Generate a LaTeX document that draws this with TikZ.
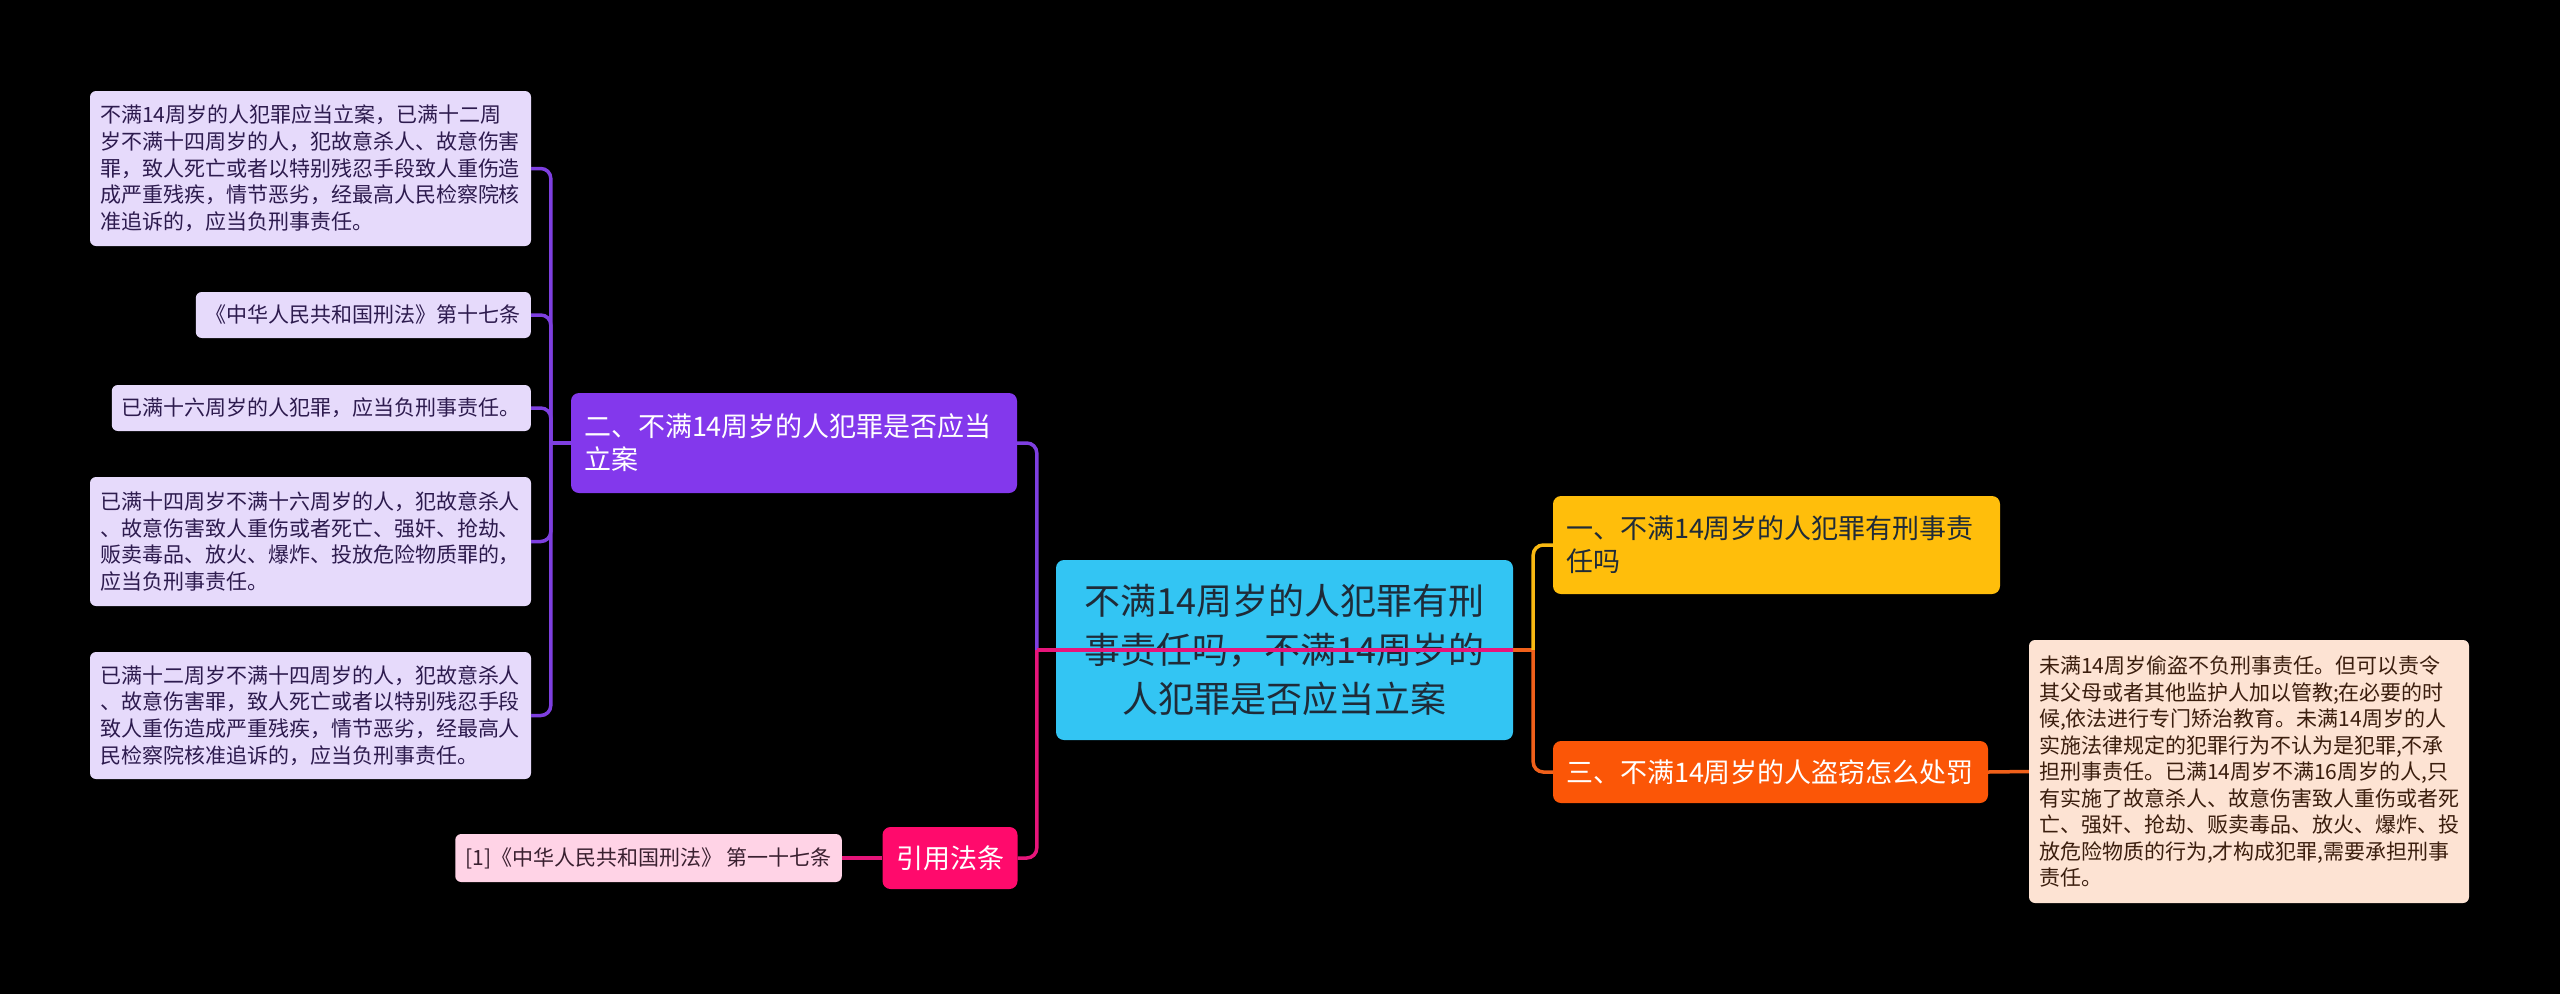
\documentclass[tikz,border=0pt]{standalone}
\usepackage{fontspec}
\setmainfont{Noto Sans CJK SC}
\usetikzlibrary{calc}
\definecolor{purpnode}{HTML}{8338EC}
\definecolor{lav}{HTML}{E6DAFB}
\definecolor{lavtext}{HTML}{2D1B4E}
\definecolor{purpline}{HTML}{7E3FE0}
\definecolor{centerfill}{HTML}{33C5F3}
\definecolor{centertext}{HTML}{1F2B38}
\definecolor{yellownode}{HTML}{FFBE0B}
\definecolor{yellowline}{HTML}{F9B912}
\definecolor{orangenode}{HTML}{FB5607}
\definecolor{orangeline}{HTML}{F0601A}
\definecolor{peach}{HTML}{FDE3D3}
\definecolor{peachtext}{HTML}{3B1E0E}
\definecolor{pinknode}{HTML}{FF0A6C}
\definecolor{pinkline}{HTML}{E6157A}
\definecolor{pinkleaf}{HTML}{FFD3E6}
\definecolor{pinktext}{HTML}{3A2030}
\tikzset{
  leafbox/.style={fill=lav, rounded corners=6pt, text=lavtext,
    font=\fontsize{21pt}{26.7pt}\selectfont, inner xsep=10pt, inner ysep=0pt, align=left},
  bignode/.style={rounded corners=8pt, font=\fontsize{27pt}{33pt}\selectfont,
    inner xsep=13pt, inner ysep=0pt, align=left},
  pl/.style={draw=purpline, line width=3.5pt},
  kl/.style={draw=pinkline, line width=3.5pt},
  yl/.style={draw=yellowline, line width=3.5pt},
  ol/.style={draw=orangeline, line width=3.5pt},
}
\begin{document}
\begin{tikzpicture}[x=1pt,y=-1pt]
\useasboundingbox (0,0) rectangle (2560,994);
\fill[black] (0,0) rectangle (2560,994);

% left leaves
\node[leafbox, text width=421pt, minimum height=155pt] (c1) at (310.5,168.5)
 {不满14周岁的人犯罪应当立案，已满十二周\\岁不满十四周岁的人，犯故意杀人、故意伤害\\罪，致人死亡或者以特别残忍手段致人重伤造\\成严重残疾，情节恶劣，经最高人民检察院核\\准追诉的，应当负刑事责任。};
\node[leafbox, minimum height=46pt, anchor=east] (c2) at (531,315) {《中华人民共和国刑法》第十七条};
\node[leafbox, minimum height=46pt, anchor=east] (c3) at (531,408) {已满十六周岁的人犯罪，应当负刑事责任。};
\node[leafbox, text width=421pt, minimum height=129pt] (c4) at (310.5,541.5)
 {已满十四周岁不满十六周岁的人，犯故意杀人\\、故意伤害致人重伤或者死亡、强奸、抢劫、\\贩卖毒品、放火、爆炸、投放危险物质罪的，\\应当负刑事责任。};
\node[leafbox, text width=421pt, minimum height=127pt] (c5) at (310.5,715.5)
 {已满十二周岁不满十四周岁的人，犯故意杀人\\、故意伤害罪，致人死亡或者以特别残忍手段\\致人重伤造成严重残疾，情节恶劣，经最高人\\民检察院核准追诉的，应当负刑事责任。};

% purple branch node
\node[bignode, fill=purpnode, text=white, text width=420pt, minimum height=100pt] (p) at (794,443)
 {二、不满14周岁的人犯罪是否应当\\立案};

% center
\node[fill=centerfill, rounded corners=8pt, text=centertext, font=\fontsize{36pt}{49pt}\selectfont,
  text width=427pt, inner xsep=15pt, inner ysep=0pt, minimum height=180pt, align=center] (m) at (1284.5,650)
 {不满14周岁的人犯罪有刑\\事责任吗，不满14周岁的\\人犯罪是否应当立案};

% right side
\node[bignode, fill=yellownode, text=centertext, text width=421pt, minimum height=98pt] (y1) at (1776.5,545)
 {一、不满14周岁的人犯罪有刑事责\\任吗};
\node[bignode, fill=orangenode, text=white, text width=409pt, minimum height=62pt] (o) at (1770.5,772)
 {三、不满14周岁的人盗窃怎么处罚};
\node[fill=peach, rounded corners=6pt, text=peachtext, font=\fontsize{21pt}{26.5pt}\selectfont,
  inner xsep=10pt, inner ysep=0pt, text width=420pt, minimum height=263pt, align=left] (d) at (2249,771.5)
 {未满14周岁偷盗不负刑事责任。但可以责令\\其父母或者其他监护人加以管教;在必要的时\\候,依法进行专门矫治教育。未满14周岁的人\\实施法律规定的犯罪行为不认为是犯罪,不承\\担刑事责任。已满14周岁不满16周岁的人,只\\有实施了故意杀人、故意伤害致人重伤或者死\\亡、强奸、抢劫、贩卖毒品、放火、爆炸、投\\放危险物质的行为,才构成犯罪,需要承担刑事\\责任。};

% citation
\node[bignode, fill=pinknode, text=white, minimum height=62pt, inner xsep=13.5pt] (r) at (950,858) {引用法条};
\node[fill=pinkleaf, rounded corners=6pt, text=pinktext, font=\fontsize{21pt}{26.7pt}\selectfont,
  inner xsep=10pt, inner ysep=0pt, minimum height=48pt, anchor=east] (f) at (842,858)
 {[1]《中华人民共和国刑法》 第一十七条};

% connectors
\coordinate (sp) at ([xshift=-20pt]p.west);
\draw[pl] (p.west) -- (sp);
\foreach \c in {c1,c2,c3,c4,c5} {\draw[pl, rounded corners=10pt] (sp) |- (\c.east);}
\coordinate (ml) at ([xshift=-19pt]m.west);
\coordinate (mr) at ([xshift=20pt]m.east);
\draw[pl, rounded corners=10pt] (ml) |- (p.east);
\draw[kl, rounded corners=10pt] (ml) |- (r.east);
\draw[kl] (m.east) -- (ml);
\draw[ol] (m.east) -- (mr);
\draw[yl, rounded corners=10pt] (mr) |- (y1.west);
\draw[ol, rounded corners=10pt] (mr) |- (o.west);
\draw[ol] (o.east) -- (d.west);
\draw[kl] (f.east) -- (r.west);
\end{tikzpicture}
\end{document}
